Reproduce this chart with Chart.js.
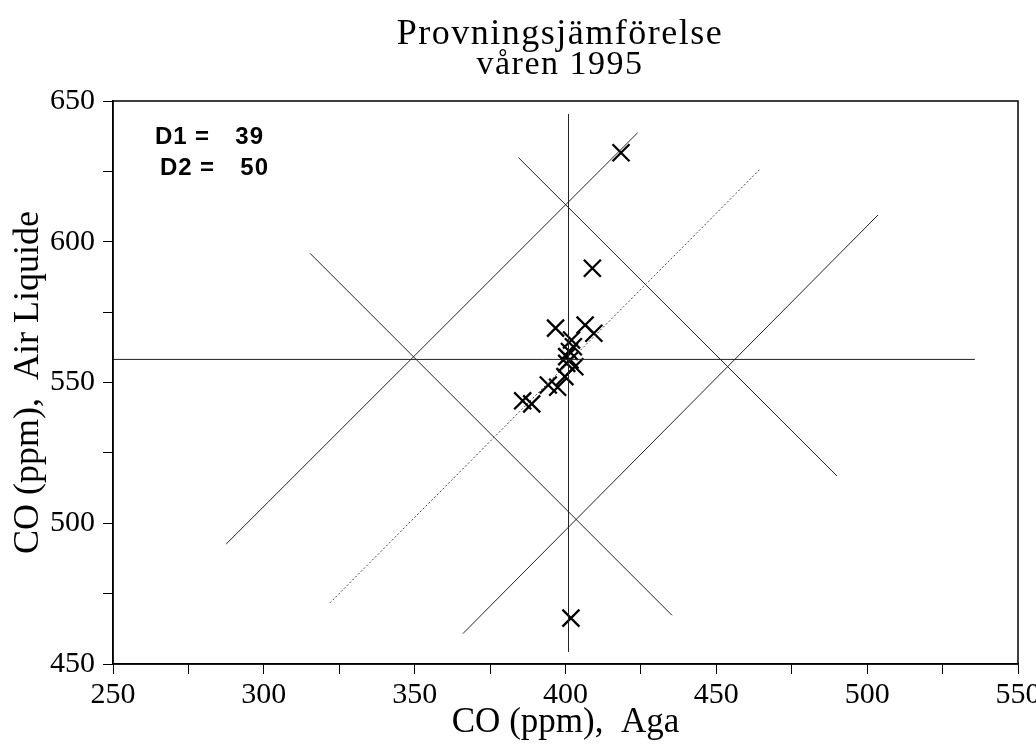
<!DOCTYPE html>
<html>
<head>
<meta charset="utf-8">
<script src="https://cdn.jsdelivr.net/npm/chart.js@4.4.1/dist/chart.umd.min.js"></script>
<style>
html, body { margin: 0; padding: 0; background: #fff; }
</style>
</head>
<body>
<canvas id="chart" width="1036" height="749"></canvas>
<script>
// Youden plot, CO (ppm)
const titleText = 'Provningsjämförelse';
const subtitleText = 'våren 1995';
const xAxisTitle = 'CO (ppm),  Aga';
const yAxisTitle = 'CO (ppm),  Air Liquide';
const d1Value = 39;
const d2Value = 50;

// lab results
const agaValues        = [418.4, 408.9, 396.7, 406.5, 409.4, 402.0, 402.6, 401.3, 400.4, 401.5, 400.4, 403.1, 399.8, 394.3, 397.4, 385.8, 388.8, 401.8];
const airLiquideValues = [631.6, 590.6, 569.3, 570.4, 567.5, 565.1, 562.7, 561.0, 559.2, 558.0, 556.8, 555.6, 552.1, 549.1, 548.3, 543.5, 542.4, 466.3];

// median lines
const medianAgaX = [401, 401];
const medianAgaY = [454.3, 645.4];
const medianAirX = [250, 535.7];
const medianAirY = [558.2, 558.2];

// 45 degree line and limits
const diagX      = [321.9, 464.5];
const diagY      = [471.7, 625.8];
const upperDiagX = [287.5, 423.9];
const upperDiagY = [492.6, 638.7];
const lowerDiagX = [366.0, 503.6];
const lowerDiagY = [460.8, 609.5];
const leftAntiX  = [315.3, 435.3];
const leftAntiY  = [595.9, 467.3];
const rightAntiX = [384.4, 490.0];
const rightAntiY = [629.9, 516.8];

const pts = (xs, ys) => xs.map((x, i) => ({ x, y: ys[i] }));

function seg(xs, ys, extra) {
  return Object.assign({
    data: pts(xs, ys),
    showLine: true,
    borderColor: '#222',
    borderWidth: 1,
    pointRadius: 0,
    fill: false
  }, extra || {});
}

const serif = '"Liberation Serif", "Times New Roman", serif';

const decor = {
  id: 'decor',
  afterDraw(chart) {
    const { ctx, chartArea: a } = chart;
    ctx.save();
    ctx.strokeStyle = '#000';
    ctx.lineWidth = 1.5;
    ctx.strokeRect(a.left, a.top, a.right - a.left, a.bottom - a.top);

    ctx.fillStyle = '#000';
    ctx.textAlign = 'center';
    ctx.textBaseline = 'alphabetic';
    ctx.letterSpacing = '1.5px';
    ctx.font = '36px ' + serif;
    ctx.fillText(titleText, 560, 44);
    ctx.font = '34px ' + serif;
    ctx.fillText(subtitleText, 560, 74);

    ctx.letterSpacing = '1px';
    ctx.font = 'bold 24px "Liberation Sans", Arial, sans-serif';
    ctx.textAlign = 'left';
    ctx.fillText('D1', 155, 144);
    ctx.fillText('=', 195, 144);
    ctx.fillText('D2', 160, 175);
    ctx.fillText('=', 200, 175);
    ctx.textAlign = 'right';
    ctx.fillText(String(d1Value), 264, 144);
    ctx.fillText(String(d2Value), 269, 175);
    ctx.restore();
  }
};

const ctx = document.getElementById('chart').getContext('2d');
new Chart(ctx, {
  type: 'scatter',
  data: {
    datasets: [
      seg(medianAgaX, medianAgaY),
      seg(medianAirX, medianAirY),
      seg(diagX, diagY, { borderDash: [2, 2], borderColor: '#444' }),
      seg(upperDiagX, upperDiagY),
      seg(lowerDiagX, lowerDiagY),
      seg(leftAntiX, leftAntiY),
      seg(rightAntiX, rightAntiY),
      {
        data: pts(agaValues, airLiquideValues),
        pointStyle: 'crossRot',
        pointRadius: 12,
        pointBorderWidth: 2.3,
        borderColor: '#000',
        backgroundColor: '#000'
      }
    ]
  },
  options: {
    responsive: false,
    animation: false,
    layout: { padding: { top: 101, right: 18, bottom: 0, left: 0 } },
    plugins: { legend: { display: false }, tooltip: { enabled: false } },
    scales: {
      x: {
        type: 'linear',
        min: 250, max: 550,
        afterFit: s => { s.height = 85; s.paddingRight = 0; s.paddingLeft = 0; },
        border: { display: true, color: '#000', width: 1.5 },
        grid: { drawOnChartArea: false, drawTicks: true, tickLength: 10, tickColor: '#000', tickWidth: 1 },
        ticks: {
          stepSize: 25, padding: 3, color: '#000', maxRotation: 0,
          font: { family: serif, size: 30 },
          callback: v => (v % 50 === 0 ? v : '')
        },
        title: {
          display: true, text: xAxisTitle, color: '#000',
          font: { family: serif, size: 35 }, padding: { top: 0, bottom: 5 }
        }
      },
      y: {
        type: 'linear',
        min: 450, max: 650,
        afterFit: s => { s.width = 113; },
        border: { display: true, color: '#000', width: 1.5 },
        grid: { drawOnChartArea: false, drawTicks: true, tickLength: 10, tickColor: '#000', tickWidth: 1 },
        ticks: {
          stepSize: 25, padding: 8, color: '#000',
          font: { family: serif, size: 30 },
          callback: v => (v % 50 === 0 ? v : '')
        },
        title: {
          display: true, text: yAxisTitle, color: '#000',
          font: { family: serif, size: 36 }, padding: { top: 7, bottom: 0 }
        }
      }
    }
  },
  plugins: [decor]
});
</script>
</body>
</html>
